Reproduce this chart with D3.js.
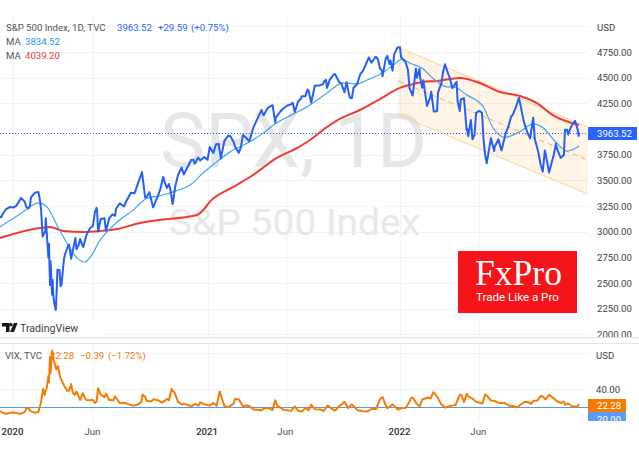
<!DOCTYPE html>
<html><head><meta charset="utf-8">
<script src="https://cdn.jsdelivr.net/npm/d3@7"></script>
<style>html,body{margin:0;padding:0;background:#fff;overflow:hidden}svg{display:block}text{font-family:Roboto,sans-serif}</style>
</head><body><svg id="c" width="639" height="456"></svg>
<script>
const spxDates=["2019-12-08","2019-12-11","2019-12-13","2019-12-20","2019-12-27","2020-01-03","2020-01-08","2020-01-17","2020-01-24","2020-01-27","2020-01-31","2020-02-05","2020-02-12","2020-02-19","2020-02-24","2020-02-27","2020-03-03","2020-03-04","2020-03-09","2020-03-10","2020-03-12","2020-03-13","2020-03-16","2020-03-17","2020-03-18","2020-03-23","2020-03-26","2020-03-30","2020-04-01","2020-04-06","2020-04-08","2020-04-14","2020-04-17","2020-04-21","2020-04-29","2020-05-01","2020-05-08","2020-05-14","2020-05-20","2020-05-27","2020-06-01","2020-06-08","2020-06-11","2020-06-16","2020-06-26","2020-07-02","2020-07-08","2020-07-13","2020-07-22","2020-07-30","2020-08-12","2020-08-19","2020-09-02","2020-09-08","2020-09-16","2020-09-23","2020-10-02","2020-10-12","2020-10-19","2020-10-23","2020-10-30","2020-11-09","2020-11-20","2020-12-04","2020-12-11","2020-12-17","2020-12-21","2021-01-08","2021-01-15","2021-01-25","2021-01-29","2021-02-12","2021-02-16","2021-02-25","2021-03-04","2021-03-12","2021-03-24","2021-04-01","2021-04-16","2021-04-20","2021-04-29","2021-05-07","2021-05-12","2021-05-20","2021-06-04","2021-06-18","2021-06-30","2021-07-12","2021-07-19","2021-07-26","2021-08-03","2021-08-18","2021-08-30","2021-09-02","2021-09-20","2021-09-24","2021-10-04","2021-10-14","2021-10-25","2021-11-05","2021-11-18","2021-11-30","2021-12-01","2021-12-07","2021-12-20","2021-12-29","2022-01-03","2022-01-10","2022-01-13","2022-01-21","2022-01-27","2022-02-02","2022-02-09","2022-02-14","2022-02-16","2022-02-23","2022-03-01","2022-03-08","2022-03-16","2022-03-29","2022-04-05","2022-04-12","2022-04-20","2022-04-26","2022-05-04","2022-05-12","2022-05-17","2022-05-20","2022-05-27","2022-06-02","2022-06-10","2022-06-16","2022-06-24","2022-06-30","2022-07-08","2022-07-14","2022-07-27","2022-08-05","2022-08-16","2022-08-23","2022-09-01","2022-09-12","2022-09-15","2022-09-26","2022-09-30","2022-10-04","2022-10-12","2022-10-21","2022-10-27","2022-11-03","2022-11-11","2022-11-17","2022-11-23","2022-11-30","2022-12-05","2022-12-07","2022-12-08"];
const spxValues=[3145,3141,3168,3221,3240,3235,3253,3329,3295,3243,3225,3334,3379,3386,3225,2954,3003,3130,2746,2882,2480,2711,2386,2529,2398,2237,2630,2627,2470,2664,2750,2846,2875,2737,2939,2830,2930,2852,2971,3036,3055,3232,3002,3124,3009,3130,3169,3155,3276,3246,3380,3375,3580,3331,3385,3237,3348,3534,3426,3465,3270,3550,3557,3699,3663,3722,3694,3824,3768,3855,3714,3934,3932,3829,3768,3943,3881,4019,4185,4134,4211,4232,4063,4159,4229,4166,4297,4384,4258,4422,4423,4400,4528,4536,4357,4455,4300,4438,4566,4697,4704,4567,4513,4686,4568,4793,4796,4670,4659,4397,4326,4589,4587,4401,4475,4225,4306,4170,4357,4631,4525,4397,4459,4175,4300,3930,4088,3901,4158,4176,3900,3666,3911,3785,3899,3790,4023,4145,4305,4128,3966,4110,3901,3655,3585,3790,3577,3752,3807,3719,3992,3946,4027,4080,3998,3933,3963.52];
const spxDetailDates=["2020-01-10","2020-02-03","2020-02-21","2020-03-20","2020-03-25","2020-04-03","2020-04-10","2020-05-05","2020-05-12","2020-06-05","2020-06-09","2020-06-23","2020-07-15","2020-08-03","2020-08-26","2020-09-11","2020-10-07","2020-10-15","2020-10-26","2020-11-04","2020-11-16","2020-12-08","2020-12-29","2021-01-04","2021-01-20","2021-02-05","2021-02-22","2021-03-08","2021-03-18","2021-04-08","2021-04-26","2021-05-13","2021-05-26","2021-06-10","2021-06-14","2021-06-24","2021-07-01","2021-07-08","2021-07-14","2021-08-10","2021-08-13","2021-08-16","2021-08-23","2021-09-10","2021-09-14","2021-09-28","2021-09-30","2021-10-07","2021-10-20","2021-11-10","2021-11-15","2021-11-22","2021-11-26","2021-12-10","2021-12-14","2021-12-16","2021-12-23","2022-01-05","2022-01-18","2022-02-04","2022-02-10","2022-03-03","2022-03-14","2022-03-23","2022-03-25","2022-04-07","2022-04-22","2022-04-28","2022-05-09","2022-05-10","2022-05-24","2022-06-07","2022-06-13","2022-07-01","2022-07-22","2022-08-01","2022-08-10","2022-08-26","2022-09-06","2022-09-21","2022-10-06","2022-10-17","2022-10-25","2022-11-09","2022-11-15"];
const spxDetailValues=[3265,3248,3337,2304,2475,2488,2790,2868,2870,3193,3207,3131,3226,3294,3478,3340,3419,3483,3401,3443,3626,3702,3727,3700,3851,3886,3876,3821,3915,4097,4187,4112,4195,4239,4255,4266,4319,4320,4374,4436,4468,4479,4479,4458,4443,4352,4307,4399,4536,4646,4682,4682,4594,4712,4634,4668,4725,4700,4577,4500,4504,4363,4173,4456,4543,4500,4271,4287,3991,4001,3941,4160,3749,3825,3961,4118,4210,4057,3908,3789,3744,3677,3859,3748,3992];
const maFastDates=["2019-12-08","2020-01-15","2020-02-20","2020-03-08","2020-03-25","2020-04-13","2020-05-02","2020-05-17","2020-05-30","2020-06-15","2020-06-28","2020-07-17","2020-08-16","2020-09-11","2020-10-06","2020-11-07","2020-12-02","2020-12-26","2021-01-14","2021-02-15","2021-03-25","2021-04-19","2021-05-15","2021-06-15","2021-07-17","2021-08-18","2021-09-17","2021-10-14","2021-11-03","2021-11-30","2021-12-21","2022-01-07","2022-01-22","2022-02-15","2022-03-06","2022-04-02","2022-04-13","2022-05-10","2022-06-09","2022-06-28","2022-07-21","2022-08-18","2022-09-12","2022-10-01","2022-10-27","2022-11-15","2022-12-08"];
const maFastValues=[3046,3170,3280,3230,3065,2890,2745,2705,2775,2920,3000,3095,3210,3325,3350,3400,3455,3570,3650,3775,3875,3960,4060,4145,4235,4350,4450,4440,4480,4545,4620,4680,4640,4590,4495,4410,4410,4330,4220,4010,3920,3975,4050,4010,3860,3785,3834.52];
const maSlowDates=["2019-12-08","2020-02-22","2020-03-12","2020-04-06","2020-05-13","2020-06-15","2020-07-17","2020-08-29","2020-10-06","2020-12-15","2021-01-14","2021-02-21","2021-03-31","2021-05-15","2021-06-22","2021-07-17","2021-08-18","2021-09-11","2021-10-19","2021-11-26","2022-01-03","2022-01-22","2022-02-15","2022-03-14","2022-04-26","2022-06-03","2022-07-11","2022-08-18","2022-09-19","2022-10-19","2022-12-08"];
const maSlowValues=[2939,3036,3046,3007,2997,3007,3026,3085,3114,3163,3320,3435,3552,3718,3815,3893,4020,4098,4185,4292,4400,4430,4458,4468,4497,4448,4360,4322,4253,4136,4039.2];
const channelDates=["2021-12-31","2022-12-24"];
const channelUpper=[4796,4020];
const channelMiddle=[4468,3698];
const channelLower=[4137,3367];
const vixDates=["2019-12-08","2019-12-12","2019-12-20","2019-12-31","2020-01-08","2020-01-16","2020-01-24","2020-01-27","2020-01-31","2020-02-05","2020-02-12","2020-02-19","2020-02-24","2020-02-28","2020-03-02","2020-03-03","2020-03-05","2020-03-06","2020-03-09","2020-03-10","2020-03-12","2020-03-13","2020-03-16","2020-03-19","2020-03-24","2020-03-27","2020-03-31","2020-04-02","2020-04-08","2020-04-14","2020-04-17","2020-04-21","2020-04-28","2020-05-01","2020-05-08","2020-05-13","2020-05-20","2020-05-29","2020-06-05","2020-06-08","2020-06-11","2020-06-16","2020-06-26","2020-07-02","2020-07-10","2020-07-13","2020-07-22","2020-07-31","2020-08-12","2020-08-24","2020-09-01","2020-09-03","2020-09-08","2020-09-18","2020-09-24","2020-10-02","2020-10-09","2020-10-19","2020-10-23","2020-10-28","2020-10-30","2020-11-09","2020-11-20","2020-12-04","2020-12-11","2020-12-18","2020-12-21","2020-12-31","2021-01-08","2021-01-15","2021-01-21","2021-01-27","2021-01-29","2021-02-05","2021-02-12","2021-02-22","2021-02-25","2021-03-04","2021-03-12","2021-03-24","2021-04-01","2021-04-16","2021-04-22","2021-04-30","2021-05-07","2021-05-12","2021-05-17","2021-05-20","2021-06-04","2021-06-18","2021-06-24","2021-07-02","2021-07-08","2021-07-19","2021-07-26","2021-08-05","2021-08-19","2021-08-31","2021-09-10","2021-09-20","2021-09-27","2021-10-04","2021-10-15","2021-11-03","2021-11-19","2021-11-26","2021-12-01","2021-12-07","2021-12-17","2021-12-20","2021-12-30","2022-01-07","2022-01-14","2022-01-24","2022-01-27","2022-02-04","2022-02-14","2022-02-24","2022-03-07","2022-03-14","2022-03-22","2022-03-30","2022-04-08","2022-04-18","2022-04-26","2022-04-29","2022-05-04","2022-05-09","2022-05-12","2022-05-20","2022-05-27","2022-06-03","2022-06-13","2022-06-16","2022-06-24","2022-07-08","2022-07-19","2022-07-29","2022-08-12","2022-08-26","2022-09-01","2022-09-13","2022-09-26","2022-09-30","2022-10-05","2022-10-12","2022-10-28","2022-11-04","2022-11-09","2022-11-17","2022-11-25","2022-11-30","2022-12-05","2022-12-07","2022-12-08"];
const vixValues=[15.5,14,12.5,13.8,13.5,12.3,14.5,18.2,18.8,15.1,13.7,14.4,25,40,33.4,36.8,39.6,41.9,54.5,47.3,75.5,57.8,82.69,72,61.7,65.5,53.5,50.9,43.4,37.8,38.2,45.4,33.6,37.2,27.9,35.3,27.9,27.5,24.5,25.8,40.8,33.7,34.7,27.7,27.3,32,24.3,24.5,22.3,22.4,26,33.6,31.5,26,28.5,27.6,25,29,27.5,40.3,38,25.7,23.7,20.8,23.3,21.6,25.2,22.7,21.6,24.3,21.3,37.2,33.1,20.9,19.9,23.5,28.9,28.6,20.7,21.2,17.3,16.2,18.7,18.6,16.7,27.6,19.7,20.2,16.4,20.7,15.9,15.1,19,22.5,17.6,17.3,21.7,16.5,20.9,25.7,18.8,22.9,16.3,15.1,17.9,28.6,31.1,21.9,21.6,22.9,17.3,18.8,19.2,29.9,30.5,23.2,28.3,30.3,36.5,31.8,22.9,19.3,21.2,22.2,33.5,33.4,25.4,34.8,31.8,29.4,25.7,24.8,34,32.9,27.2,24.6,24.5,21.3,19.5,25.6,25.6,27,32.3,31.6,28.5,33.6,25.8,24.5,26,23.9,20.5,20.6,20.7,22.67,22.28];
const vixDetailDates=["2020-04-24","2020-05-18","2020-06-01","2020-06-23","2020-07-06","2020-08-03","2020-08-18","2020-09-11","2020-10-14","2020-11-03","2020-11-17","2021-03-18","2021-04-08","2021-05-28","2021-06-11","2021-07-14","2021-08-12","2021-09-03","2021-10-26","2021-11-10","2021-12-10","2022-01-19","2022-02-09","2022-03-02","2022-04-13","2022-06-08","2022-07-01","2022-08-05","2022-09-08","2022-09-20","2022-10-20","2022-11-11"];
const vixDetailValues=[35.9,29.3,28,31,27.9,24,21.5,26.9,26.4,35.5,22.7,21.6,16.9,16.8,15.7,16.3,15.6,16.4,15.2,17.8,18.7,23.8,20.5,29.7,21.8,23.9,26.7,21.2,23.6,27.2,29.9,22.5];
const gridTicks=[5000,4750,4500,4250,4000,3750,3500,3250,3000,2750,2500,2250,2000];
const priceTicks=[4750,4500,4250,3750,3500,3250,3000,2750,2500,2250,2000];
const vixTicks=[40];
const timeTickDates=["2020-01-02","2020-06-01","2021-01-04","2021-06-01","2022-01-03","2022-06-01"];
const timeTickLabels=["2020","Jun","2021","Jun","2022","Jun"];

const parse=d3.utcParse("%Y-%m-%d"), svg=d3.select("#c");
const x=d3.scaleUtc().domain([parse("2020-01-02"),parse("2022-01-03")]).range([13,400]);
const y=d3.scaleLinear().domain([2000,4750]).range([334.4,52]);
const yv=d3.scaleLinear().domain([20,40]).range([407,389]);
const zip=(ds,vs)=>ds.map((d,i)=>[parse(d),vs[i]]);
const merged=(a,b,c,e)=>zip(a,b).concat(zip(c,e)).sort((p,q)=>d3.ascending(p[0],q[0]));
const lineP=d3.line().x(d=>x(d[0])).y(d=>y(d[1]));
const lineS=d3.line().x(d=>x(d[0])).y(d=>y(d[1])).curve(d3.curveMonotoneX);
const lineV=d3.line().x(d=>x(d[0])).y(d=>yv(d[1]));
const defs=svg.append("defs");
defs.append("clipPath").attr("id","cp").append("rect").attr("x",0).attr("y",17).attr("width",588).attr("height",320);
defs.append("clipPath").attr("id","cv").append("rect").attr("x",0).attr("y",343).attr("width",588).attr("height",78);
defs.append("clipPath").attr("id","ca").append("rect").attr("x",588).attr("y",17).attr("width",51).attr("height",320);
defs.append("clipPath").attr("id","cb").append("rect").attr("x",588).attr("y",343).attr("width",51).attr("height",78);
const gridC="#f1f3f7";
const tickDates=timeTickDates.map(parse);
// grids
const gm=svg.append("g").attr("stroke",gridC);
gm.selectAll("line.h").data(gridTicks).join("line").attr("x1",0).attr("x2",588).attr("y1",d=>Math.round(y(d))+.5).attr("y2",d=>Math.round(y(d))+.5);
gm.selectAll("line.v").data(tickDates).join("line").attr("x1",d=>Math.round(x(d))+.5).attr("x2",d=>Math.round(x(d))+.5).attr("y1",17).attr("y2",337);
const gv=svg.append("g").attr("stroke",gridC);
gv.selectAll("line.h").data([80,40]).join("line").attr("x1",0).attr("x2",588).attr("y1",d=>Math.round(yv(d))+.5).attr("y2",d=>Math.round(yv(d))+.5);
gv.selectAll("line.v").data(tickDates).join("line").attr("x1",d=>Math.round(x(d))+.5).attr("x2",d=>Math.round(x(d))+.5).attr("y1",343).attr("y2",421);
// watermark
svg.append("text").attr("x",160).attr("y",167).attr("font-size",76).attr("textLength",267).attr("lengthAdjust","spacingAndGlyphs").attr("fill","#e6e6e6").text("SPX, 1D");
svg.append("text").attr("x",169).attr("y",235).attr("font-size",37).attr("textLength",251).attr("lengthAdjust","spacingAndGlyphs").attr("fill","#e8e8e8").text("S&P 500 Index");
// main plot
const pl=svg.append("g").attr("clip-path","url(#cp)");
const cd=channelDates.map(parse);
pl.append("path").attr("fill","#ff9800").attr("fill-opacity",.1).attr("d",d3.area().x((d,i)=>x(cd[i])).y0((d,i)=>y(channelLower[i])).y1((d,i)=>y(channelUpper[i]))(cd));
const chan=(vs,st,w,da)=>pl.append("path").attr("fill","none").attr("stroke",st).attr("stroke-width",w).attr("stroke-dasharray",da).attr("d",lineP(zip(channelDates,vs)));
chan(channelUpper,"#ffd199",1,null);chan(channelLower,"#ffd199",1,null);chan(channelMiddle,"#ffb04d",1,"5 4");
pl.append("line").attr("x1",0).attr("x2",588).attr("y1",Math.round(y(3963.52))+.5).attr("y2",Math.round(y(3963.52))+.5).attr("stroke","#2962ff").attr("stroke-dasharray","1 2");
const draw=(g,gen,data,c,w)=>g.append("path").attr("fill","none").attr("stroke",c).attr("stroke-width",w).attr("stroke-linejoin","round").attr("d",gen(data));
draw(pl,lineS,zip(maSlowDates,maSlowValues),"#f23a30",2);
draw(pl,lineS,zip(maFastDates,maFastValues),"#42a5f5",1.2);
draw(pl,lineP,merged(spxDates,spxValues,spxDetailDates,spxDetailValues),"#2460f5",2);
// axes
const axP=d3.axisRight(y).tickValues(priceTicks).tickSize(0).tickPadding(0).tickFormat(d3.format(".2f"));
const a1=svg.append("g").attr("clip-path","url(#ca)").append("g").attr("transform","translate(597,0)").call(axP);
a1.select(".domain").remove();a1.selectAll("text").attr("font-size",9.6).attr("fill","#3b3f4a").style("font-family","Roboto,sans-serif");
svg.append("text").attr("x",597).attr("y",30.5).attr("font-size",9.6).attr("fill","#3b3f4a").text("USD");
svg.append("rect").attr("x",588).attr("y",127).attr("width",49).attr("height",13).attr("fill","#2962ff");
svg.append("text").attr("x",597).attr("y",137).attr("font-size",9.6).attr("fill","#fff").text("3963.52");
// logo block
svg.append("rect").attr("x",0).attr("y",319).attr("width",104).attr("height",18).attr("fill","#fff");
svg.append("path").attr("fill","#131722").attr("d","M2 323h7.5v9h-3.5v-5.5h-4z M11 323a1.7 1.7 0 1 0 .01 0z M14 323h3.6l-3.6 9h-4z");
svg.append("text").attr("x",20).attr("y",332).attr("font-size",10.6).attr("fill","#3c4048").text("TradingView");
// separators
svg.append("g").attr("stroke","#e0e3eb").selectAll("line").data([337.5,343.5]).join("line").attr("x1",0).attr("x2",639).attr("y1",d=>d).attr("y2",d=>d);
// vix pane
const pv=svg.append("g").attr("clip-path","url(#cv)");
pv.append("line").attr("x1",0).attr("x2",588).attr("y1",407.5).attr("y2",407.5).attr("stroke","#4f97f0").attr("stroke-width",1);
draw(pv,lineV,merged(vixDates,vixValues,vixDetailDates,vixDetailValues),"#f57c00",2);
const axV=d3.axisRight(yv).tickValues(vixTicks).tickSize(0).tickPadding(0).tickFormat(d3.format(".2f"));
const a2=svg.append("g").attr("transform","translate(596,0)").call(axV);
a2.select(".domain").remove();a2.selectAll("text").attr("font-size",9.6).attr("fill","#3b3f4a").style("font-family","Roboto,sans-serif");
svg.append("text").attr("x",596).attr("y",358.5).attr("font-size",9.6).attr("fill","#3b3f4a").text("USD");
const bx=svg.append("g").attr("clip-path","url(#cb)");
bx.append("rect").attr("x",588).attr("y",412).attr("width",38).attr("height",14).attr("fill","#5b9cf6");
bx.append("text").attr("x",597).attr("y",422.5).attr("font-size",9.6).attr("fill","#fff").text("20.00");
svg.append("rect").attr("x",588).attr("y",399).attr("width",38).attr("height",13).attr("fill","#f57c00");
svg.append("text").attr("x",597).attr("y",409).attr("font-size",9.6).attr("fill","#fff").text("22.28");
// time axis
const axT=d3.axisBottom(x).tickValues(tickDates).tickSize(0).tickPadding(0).tickFormat((d,i)=>timeTickLabels[i]);
const a3=svg.append("g").attr("transform","translate(-1,428.5)").call(axT);
a3.select(".domain").remove();a3.selectAll("text").attr("font-size",9.6).style("font-family","Roboto,sans-serif").attr("fill",(d,i)=>i%2?"#4a4e58":"#2a2e39").attr("font-weight",(d,i)=>i%2?400:500);
// legends
const legend=(px,py,t,c)=>svg.append("text").attr("x",px).attr("y",py).attr("font-size",9.6).attr("fill",c).text(t);
legend(6,31,"S&P 500 Index, 1D, TVC","#50535e");legend(117,31,"3963.52","#2962ff");legend(158,31,"+29.59","#2962ff");legend(191,31,"(+0.75%)","#2962ff");
legend(6,45,"MA","#50535e");legend(25,45,"3834.52","#2196f3");
legend(6,59,"MA","#50535e");legend(25,59,"4039.20","#f23645");
legend(5,359,"VIX, TVC","#50535e");legend(50,359,"22.28","#f57c00");legend(80,359,"−0.39","#f57c00");legend(108,359,"(−1.72%)","#f57c00");
// FxPro
svg.append("rect").attr("x",458).attr("y",251).attr("width",119).attr("height",62).attr("fill","#f5141a");
svg.append("text").attr("x",475).attr("y",285).attr("font-size",35).attr("textLength",87).attr("lengthAdjust","spacingAndGlyphs").attr("fill","#fff").style("font-family","'Liberation Serif',serif").text("FxPro");
svg.append("text").attr("x",476).attr("y",301).attr("font-size",11.6).attr("fill","#fff").text("Trade Like a Pro");
</script></body></html>
